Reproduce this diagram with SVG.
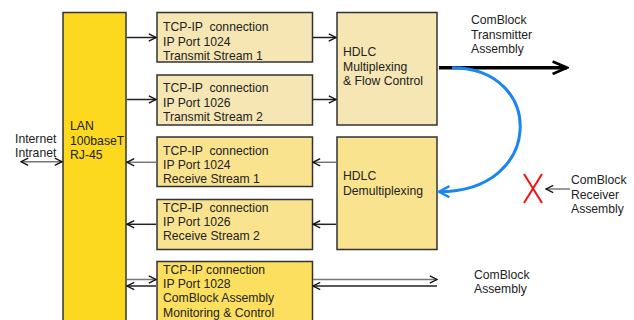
<svg xmlns="http://www.w3.org/2000/svg" width="634" height="320" viewBox="0 0 634 320">
<defs>
<style>
text{font-family:"Liberation Sans",Arial,sans-serif;font-size:12.2px;fill:#222;white-space:pre}
.box{stroke:#333;stroke-width:1.5}
.c1{fill:#F5E6B3}
.c2{fill:#F9E38F}
.c3{fill:#FCDF5E}
.lan{fill:#FCD91E}
.ln{fill:none;stroke-width:1.5}
.g{stroke:#777}
.k{stroke:#222}
</style>
<marker id="ah" viewBox="0 0 10 10" refX="9" refY="5" markerWidth="9" markerHeight="9" markerUnits="userSpaceOnUse" orient="auto-start-reverse">
<path d="M1,1 L9,5 L1,9" fill="none" stroke="#111" stroke-width="1.5"/>
</marker>
<marker id="big" viewBox="0 0 20 16" refX="18" refY="8" markerWidth="18" markerHeight="15" markerUnits="userSpaceOnUse" orient="auto">
<path d="M2,1 L18,8 L2,15" fill="none" stroke="#000" stroke-width="3"/>
</marker>
<marker id="blue" viewBox="0 0 20 16" refX="17" refY="8" markerWidth="16" markerHeight="13" markerUnits="userSpaceOnUse" orient="auto">
<path d="M4,1 L17,8 L4,15" fill="none" stroke="#1A86F0" stroke-width="3"/>
</marker>
</defs>

<g id="lan">
<rect class="box lan" x="63" y="12.5" width="63" height="320"/>
<text x="70" y="130">LAN</text>
<text x="70" y="144.5">100baseT</text>
<text x="70" y="159">RJ-45</text>
</g>

<g id="tx1">
<rect class="box c1" x="157" y="12.5" width="155.5" height="49.5"/>
<text x="163" y="31" xml:space="preserve">TCP-IP  connection</text>
<text x="163" y="45.5">IP Port 1024</text>
<text x="163" y="60">Transmit Stream 1</text>
</g>

<g id="tx2">
<rect class="box c1" x="157" y="75" width="155.5" height="50"/>
<text x="163" y="92.3" xml:space="preserve">TCP-IP  connection</text>
<text x="163" y="106.7">IP Port 1026</text>
<text x="163" y="120.7">Transmit Stream 2</text>
</g>

<g id="rx1">
<rect class="box c2" x="157" y="137" width="155.5" height="49.5"/>
<text x="163" y="155" xml:space="preserve">TCP-IP  connection</text>
<text x="163" y="169">IP Port 1024</text>
<text x="163" y="183">Receive Stream 1</text>
</g>

<g id="rx2">
<rect class="box c2" x="157" y="199.5" width="155.5" height="50"/>
<text x="163" y="211.5" xml:space="preserve">TCP-IP  connection</text>
<text x="163" y="225.5">IP Port 1026</text>
<text x="163" y="239.5">Receive Stream 2</text>
</g>

<g id="mon">
<rect class="box c3" x="157" y="261.5" width="155.5" height="70"/>
<text x="163" y="273.5">TCP-IP connection</text>
<text x="163" y="288">IP Port 1028</text>
<text x="163" y="302">ComBlock Assembly</text>
<text x="163" y="316.7">Monitoring &amp; Control</text>
</g>

<g id="mux">
<rect class="box c1" x="337" y="12.5" width="100" height="112.5"/>
<text x="343" y="56">HDLC</text>
<text x="343" y="70.5">Multiplexing</text>
<text x="343" y="84.7">&amp; Flow Control</text>
</g>

<g id="demux">
<rect class="box c2" x="337" y="137" width="100" height="112.5"/>
<text x="343" y="180">HDLC</text>
<text x="343" y="195">Demultiplexing</text>
</g>

<g id="labels">
<text x="15" y="142.7">Internet</text>
<text x="15" y="156.7">Intranet</text>
<text x="471" y="24">ComBlock</text>
<text x="471" y="38.5">Transmitter</text>
<text x="471" y="52.7">Assembly</text>
<text x="571" y="184.3">ComBlock</text>
<text x="571" y="198.7">Receiver</text>
<text x="571" y="212.7">Assembly</text>
<text x="474" y="278.7">ComBlock</text>
<text x="474" y="292.7">Assembly</text>
</g>

<g id="connectors">
<line class="ln g" x1="21" y1="161.7" x2="62" y2="161.7" marker-start="url(#ah)" marker-end="url(#ah)"/>
<line class="ln k" x1="127" y1="37.5" x2="156" y2="37.5" marker-end="url(#ah)"/>
<line class="ln k" x1="127" y1="99.5" x2="156" y2="99.5" marker-end="url(#ah)"/>
<line class="ln g" x1="156" y1="162.3" x2="127" y2="162.3" marker-end="url(#ah)"/>
<line class="ln k" x1="156" y1="224.3" x2="127" y2="224.3" marker-end="url(#ah)"/>
<line class="ln g" x1="127" y1="279.5" x2="156" y2="279.5" marker-end="url(#ah)"/>
<line class="ln k" x1="156" y1="286" x2="127" y2="286" marker-end="url(#ah)"/>
<line class="ln k" x1="313" y1="37.5" x2="336" y2="37.5" marker-end="url(#ah)"/>
<line class="ln k" x1="313" y1="99.5" x2="336" y2="99.5" marker-end="url(#ah)"/>
<line class="ln g" x1="336" y1="162.3" x2="313" y2="162.3" marker-end="url(#ah)"/>
<line class="ln k" x1="336" y1="224.3" x2="313" y2="224.3" marker-end="url(#ah)"/>
<line class="ln g" x1="313" y1="279.5" x2="437" y2="279.5" marker-end="url(#ah)"/>
<line class="ln k" x1="437" y1="286" x2="313" y2="286" marker-end="url(#ah)"/>
<line x1="439" y1="67.7" x2="567" y2="67.7" stroke="#000" stroke-width="3.5" marker-end="url(#big)"/>
<path d="M452,67.7 C545,67.7 545,191.7 439,191.7" fill="none" stroke="#1A86F0" stroke-width="3" marker-end="url(#blue)"/>
<line class="ln g" x1="570" y1="189" x2="546" y2="189" marker-end="url(#ah)"/>
<line x1="524" y1="174" x2="542" y2="203" stroke="#F01010" stroke-width="2"/>
<line x1="542" y1="174" x2="524" y2="203" stroke="#F01010" stroke-width="2"/>
</g>
</svg>
